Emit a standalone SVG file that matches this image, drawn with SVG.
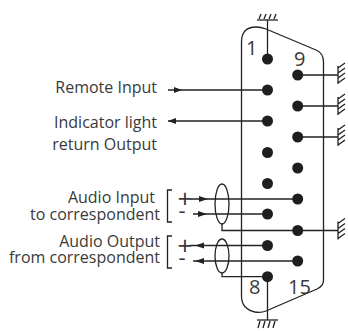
<svg xmlns="http://www.w3.org/2000/svg" width="348" height="331" viewBox="0 0 348 331">
<style>
.ln{stroke:#222;stroke-width:1.3;fill:none}
.pin{fill:#1e1e1e}
.lbl{font-family:"Open Sans","Liberation Sans",sans-serif;font-size:16px;fill:#3a3a3a;text-anchor:end}
.num{font-family:"Open Sans","Liberation Sans",sans-serif;font-size:20px;fill:#3a3a3a}
.pl{font-family:"Open Sans","Liberation Sans",sans-serif;font-size:26px;fill:#3a3a3a;text-anchor:middle}
.mn{font-family:"Open Sans","Liberation Sans",sans-serif;font-size:22px;fill:#3a3a3a;text-anchor:middle}
.ah{fill:#222}
</style>
<rect width="348" height="331" fill="#fff"/>
<g id="connector">
<path class="ln" d="M241.5,42 Q241.5,27 256,27 Q261,27 266,29 L316,50 Q323.5,53 323.5,62 L323.5,280 Q323.5,286 317,289 L266,311 Q261,313 255,312 Q241.5,309 241.5,296 Z"/>
<text class="num" x="246" y="55">1</text>
<text class="num" x="294" y="66">9</text>
<text class="num" x="249" y="294">8</text>
<text class="num" x="288" y="294">15</text>
</g>
<g id="connectors">
<line class="ln" x1="267.5" y1="20" x2="267.5" y2="59"/>
<line class="ln" x1="257" y1="20" x2="278" y2="20"/>
<path class="ln" d="M259,19 L261,14 M264,19 L266,14 M269,19 L271,14 M274,19 L276,14"/>
<line class="ln" x1="267.5" y1="276" x2="267.5" y2="320"/>
<line class="ln" x1="257" y1="320" x2="278" y2="320"/>
<path class="ln" d="M260,321 L258,328 M265,321 L263,328 M270,321 L268,328 M275,321 L273,328"/>
<path class="ln" d="M297.7,75 H338 M338,66 V84 M338,68 L345,63 M338,73 L345,68 M338,78 L345,73 M338,83 L345,78"/>
<path class="ln" d="M297.7,106 H338 M338,97 V115 M338,99 L345,94 M338,104 L345,99 M338,109 L345,104 M338,114 L345,109"/>
<path class="ln" d="M297.7,137 H338 M338,128 V146 M338,130 L345,125 M338,135 L345,130 M338,140 L345,135 M338,145 L345,140"/>
<path class="ln" d="M222,224 V230.5 H338 M338,221.5 V239.5 M338,223.5 L345,218.5 M338,228.5 L345,223.5 M338,233.5 L345,228.5 M338,238.5 L345,233.5"/>
<line class="ln" x1="168" y1="90" x2="267.5" y2="90"/>
<path class="ah" d="M182,90 L174,87 L174,93 Z"/>
<line class="ln" x1="168" y1="121" x2="267.5" y2="121"/>
<path class="ah" d="M168,121 L176,118 L176,124 Z"/>
<line class="ln" x1="190" y1="199" x2="297.7" y2="199"/>
<path class="ah" d="M208,199 L199,196 L199,202 Z"/>
<line class="ln" x1="193" y1="214" x2="267.5" y2="214"/>
<path class="ah" d="M207,214 L198,211 L198,217 Z"/>
<ellipse class="ln" cx="222" cy="204" rx="7" ry="20"/>
<line class="ln" x1="190" y1="245.5" x2="267.5" y2="245.5"/>
<path class="ah" d="M195,245.5 L204,242.5 L204,248.5 Z"/>
<line class="ln" x1="193" y1="261" x2="297.7" y2="261"/>
<path class="ah" d="M195,261 L204,258 L204,264 Z"/>
<ellipse class="ln" cx="222" cy="256" rx="7" ry="17"/>
<path class="ln" d="M222,273 V276.7 H267.5"/>
<path class="ln" d="M172,190 H167.5 V222 H172"/>
<path class="ln" d="M172,236 H167.5 V268 H172"/>
</g>
<g id="pins">
<circle class="pin" cx="267.5" cy="59" r="5.5"/>
<circle class="pin" cx="267.5" cy="90" r="5.5"/>
<circle class="pin" cx="267.5" cy="121" r="5.5"/>
<circle class="pin" cx="267.5" cy="152.5" r="5.5"/>
<circle class="pin" cx="267.5" cy="183.5" r="5.5"/>
<circle class="pin" cx="267.5" cy="214" r="5.5"/>
<circle class="pin" cx="267.5" cy="245.5" r="5.5"/>
<circle class="pin" cx="267.5" cy="276.7" r="5.5"/>
<circle class="pin" cx="297.7" cy="75" r="5.5"/>
<circle class="pin" cx="297.7" cy="106" r="5.5"/>
<circle class="pin" cx="297.7" cy="137" r="5.5"/>
<circle class="pin" cx="297.7" cy="168" r="5.5"/>
<circle class="pin" cx="297.7" cy="199" r="5.5"/>
<circle class="pin" cx="297.7" cy="230.5" r="5.5"/>
<circle class="pin" cx="297.7" cy="261" r="5.5"/>
</g>
<g id="labels">
<text class="lbl" x="157" y="93">Remote Input</text>
<text class="lbl" x="157" y="128">Indicator light</text>
<text class="lbl" x="157" y="150">return Output</text>
<text class="lbl" x="155" y="203">Audio Input</text>
<text class="lbl" x="160" y="220">to correspondent</text>
<text class="lbl" x="160" y="247">Audio Output</text>
<text class="lbl" x="160" y="263">from correspondent</text>
<text class="pl" x="185" y="208">+</text>
<text class="mn" x="182" y="218">-</text>
<text class="pl" x="185" y="254.5">+</text>
<text class="mn" x="182" y="265">-</text>
</g>
</svg>
